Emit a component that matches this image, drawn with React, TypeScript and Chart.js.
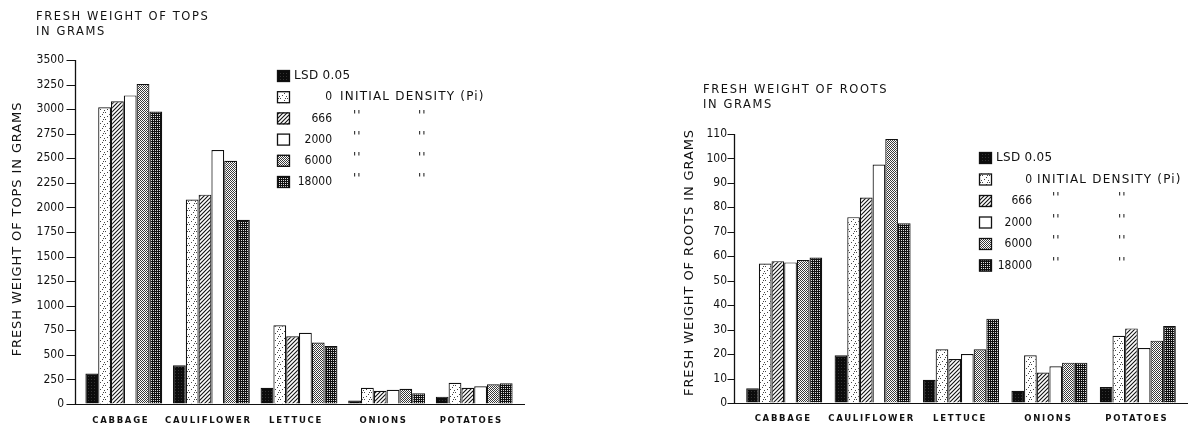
import React, { useEffect, useRef } from 'react';
import { Chart, registerables } from 'chart.js';

Chart.register(...registerables);

// ---------- data ----------
const categories = ['CABBAGE', 'CAULIFLOWER', 'LETTUCE', 'ONIONS', 'POTATOES'];
const seriesNames = ['LSD 0.05', '0', '666', '2000', '6000', '18000'];

const topsLSD = [310, 395, 165, 35, 75];
const tops0 = [3020, 2080, 800, 165, 215];
const tops666 = [3080, 2130, 690, 135, 165];
const tops2000 = [3140, 2585, 725, 145, 180];
const tops6000 = [3255, 2475, 625, 155, 200];
const tops18000 = [2975, 1875, 590, 110, 210];

const rootsLSD = [6, 19.5, 9.5, 5, 6.5];
const roots0 = [57, 76, 22, 19.5, 27.5];
const roots666 = [58, 84, 18, 12.5, 30.5];
const roots2000 = [57.5, 97.5, 20, 15, 22.5];
const roots6000 = [58.5, 108, 22, 16.5, 25.5];
const roots18000 = [59.5, 73.5, 34.5, 16.5, 31.5];

const topsTicks = [0, 250, 500, 750, 1000, 1250, 1500, 1750, 2000, 2250, 2500, 2750, 3000, 3250, 3500];
const rootsTicks = [0, 10, 20, 30, 40, 50, 60, 70, 80, 90, 100, 110];

const topsTitle = ['FRESH WEIGHT OF TOPS', 'IN GRAMS'];
const rootsTitle = ['FRESH WEIGHT OF ROOTS', 'IN GRAMS'];
const topsAxisTitle = 'FRESH WEIGHT OF TOPS IN GRAMS';
const rootsAxisTitle = 'FRESH WEIGHT OF ROOTS IN GRAMS';
const densityNote = 'INITIAL DENSITY (Pi)';
const ditto = "''";

// ---------- patterns ----------
function tile(w: number, h: number, draw: (ctx: CanvasRenderingContext2D) => void): CanvasPattern | string {
  const c = document.createElement('canvas');
  c.width = w;
  c.height = h;
  const ctx = c.getContext('2d')!;
  draw(ctx);
  const p = ctx.createPattern(c, 'repeat');
  return p || '#888';
}

function makeFills(): (CanvasPattern | string)[] {
  const lsd = tile(3, 3, (ctx) => {
    ctx.fillStyle = '#0c0c0c';
    ctx.fillRect(0, 0, 3, 3);
    ctx.fillStyle = '#333';
    ctx.fillRect(1, 1, 1, 1);
  });
  const stipple = tile(7, 7, (ctx) => {
    ctx.fillStyle = '#fff';
    ctx.fillRect(0, 0, 7, 7);
    ctx.fillStyle = '#444';
    [[0, 0], [4, 2], [2, 4], [6, 5], [5, 0]].forEach(([x, y]) => ctx.fillRect(x, y, 1, 1));
  });
  const hatch = tile(4, 4, (ctx) => {
    ctx.fillStyle = '#fff';
    ctx.fillRect(0, 0, 4, 4);
    ctx.strokeStyle = '#111';
    ctx.lineWidth = 1.1;
    ctx.beginPath();
    ctx.moveTo(-1, 5);
    ctx.lineTo(5, -1);
    ctx.moveTo(-1, 1);
    ctx.lineTo(1, -1);
    ctx.moveTo(3, 5);
    ctx.lineTo(5, 3);
    ctx.stroke();
  });
  const open = '#ffffff';
  const medium = tile(2, 2, (ctx) => {
    ctx.fillStyle = '#fff';
    ctx.fillRect(0, 0, 2, 2);
    ctx.fillStyle = '#3a3a3a';
    ctx.fillRect(0, 0, 1, 1);
    ctx.fillRect(1, 1, 1, 1);
  });
  const dark = tile(2, 2, (ctx) => {
    ctx.fillStyle = '#111';
    ctx.fillRect(0, 0, 2, 2);
    ctx.fillStyle = '#ddd';
    ctx.fillRect(1, 0, 1, 1);
  });
  return [lsd, stipple, hatch, open, medium, dark];
}

// ---------- decoration plugin (axis line, titles, category labels, legend) ----------
const decorPlugin = {
  id: 'decor',
  afterDraw(chart: any, _args: any, opts: any) {
    const ctx: CanvasRenderingContext2D = chart.ctx;
    const area = chart.chartArea;
    const c: any = ctx;
    const ys = chart.scales.y;
    ctx.save();
    ctx.fillStyle = '#111';
    ctx.strokeStyle = '#111';

    // baseline
    ctx.lineWidth = 1.2;
    ctx.beginPath();
    ctx.moveTo(area.left - opts.baseExtL, area.bottom + 0.5);
    ctx.lineTo(area.right + opts.baseExtR, area.bottom + 0.5);
    ctx.stroke();

    // y axis line and tick marks (set slightly left of the plot area)
    const ax = Math.round(area.left - opts.axisGap) + 0.5;
    ctx.lineWidth = 1.3;
    ctx.beginPath();
    ctx.moveTo(ax, ys.getPixelForValue(ys.max));
    ctx.lineTo(ax, area.bottom + 1);
    ctx.stroke();
    ctx.lineWidth = 1;
    ys.ticks.forEach((t: any) => {
      const py = Math.round(ys.getPixelForValue(t.value)) + 0.5;
      ctx.beginPath();
      ctx.moveTo(ax - opts.tickLen, py);
      ctx.lineTo(ax, py);
      ctx.stroke();
    });

    // title
    ctx.font = '11.5px "DejaVu Sans"';
    c.letterSpacing = '1.6px';
    ctx.textAlign = 'left';
    ctx.textBaseline = 'alphabetic';
    opts.title.forEach((line: string, i: number) => ctx.fillText(line, opts.titleX, opts.titleY + i * 15));

    // y axis title (rotated)
    ctx.save();
    ctx.translate(opts.axisTitleX, (area.top + area.bottom) / 2 + opts.axisTitleDY);
    ctx.rotate(-Math.PI / 2);
    ctx.font = '13px "DejaVu Sans"';
    c.letterSpacing = '0.9px';
    ctx.textAlign = 'center';
    ctx.textBaseline = 'middle';
    ctx.fillText(opts.axisTitle, 0, 0);
    ctx.restore();

    // category labels
    const xs = chart.scales.x;
    ctx.font = 'bold 8.5px "DejaVu Sans"';
    c.letterSpacing = '1.7px';
    ctx.textAlign = 'center';
    ctx.textBaseline = 'middle';
    chart.data.labels.forEach((lab: string, i: number) => {
      ctx.fillText(lab, xs.getPixelForTick(i) + opts.catDX, opts.catY);
    });
    c.letterSpacing = '0px';

    // legend
    const lg = opts.legend;
    ctx.textBaseline = 'middle';
    chart.data.datasets.forEach((ds: any, i: number) => {
      const y = lg.y + i * lg.step;
      ctx.fillStyle = ds.backgroundColor;
      ctx.fillRect(lg.x, y - 6, 13, 12);
      ctx.lineWidth = 1.3;
      ctx.strokeStyle = '#111';
      ctx.strokeRect(lg.x + 0.5, y - 5.5, 12, 11);
      ctx.fillStyle = '#111';
      if (i === 0) {
        ctx.font = '12px "DejaVu Sans"';
        c.letterSpacing = '0.3px';
        ctx.textAlign = 'left';
        ctx.fillText(ds.label, lg.x + 17, y);
      } else {
        ctx.font = '12px "DejaVu Sans Condensed", "DejaVu Sans"';
        c.letterSpacing = '0px';
        ctx.textAlign = 'right';
        ctx.fillText(ds.label, lg.numRight, y);
        ctx.textAlign = 'left';
        ctx.font = '12px "DejaVu Sans"';
        if (i === 1) {
          c.letterSpacing = '1.2px';
          ctx.fillText(densityNote, lg.noteX, y);
        } else {
          c.letterSpacing = '1px';
          ctx.fillText(ditto, lg.d1, y - 3);
          ctx.fillText(ditto, lg.d2, y - 3);
        }
      }
    });
    c.letterSpacing = '0px';
    ctx.restore();
  },
};

type Cfg = {
  series: number[][];
  ticks: number[];
  yWidth: number;
  xHeight: number;
  padding: { top: number; right: number; bottom: number; left: number };
  catPct: number;
  labelGap: number;
  decor: any;
};

function makeChart(canvas: HTMLCanvasElement, cfg: Cfg): Chart {
  const fills = makeFills();
  const ticks = cfg.ticks;
  return new Chart(canvas, {
    type: 'bar',
    data: {
      labels: categories,
      datasets: cfg.series.map((vals, i) => ({
        label: seriesNames[i],
        data: vals,
        backgroundColor: fills[i] as any,
        borderColor: '#111',
        borderWidth: 1.2,
        borderSkipped: 'bottom',
        categoryPercentage: cfg.catPct,
        barPercentage: 1.0,
      })),
    },
    options: {
      responsive: false,
      animation: false,
      devicePixelRatio: 1,
      layout: { padding: cfg.padding },
      plugins: {
        legend: { display: false },
        tooltip: { enabled: false },
        title: { display: false },
        decor: cfg.decor,
      } as any,
      scales: {
        x: {
          grid: { display: false },
          border: { display: false },
          ticks: { display: false },
          afterFit: (s: any) => {
            s.height = cfg.xHeight;
          },
        },
        y: {
          min: ticks[0],
          max: ticks[ticks.length - 1],
          afterBuildTicks: (s: any) => {
            s.ticks = ticks.map((v) => ({ value: v }));
          },
          afterFit: (s: any) => {
            s.width = cfg.yWidth;
          },
          grid: {
            display: true,
            drawOnChartArea: false,
            drawTicks: true,
            tickLength: 8,
            color: 'rgba(0,0,0,0)',
          },
          border: { display: false },
          ticks: {
            color: '#111',
            padding: cfg.labelGap,
            font: { family: '"DejaVu Sans Condensed", "DejaVu Sans"', size: 12 },
            callback: (v: any) => String(v),
          },
          title: { display: false },
        },
      },
    },
    plugins: [decorPlugin as any],
  });
}

export default function App() {
  const leftRef = useRef<HTMLCanvasElement>(null);
  const rightRef = useRef<HTMLCanvasElement>(null);

  useEffect(() => {
    const left = makeChart(leftRef.current!, {
      series: [topsLSD, tops0, tops666, tops2000, tops6000, tops18000],
      ticks: topsTicks,
      yWidth: 80,
      xHeight: 24,
      padding: { top: 60, right: 42, bottom: 0, left: 0 },
      catPct: 0.877,
      labelGap: 8,
      decor: {
        title: topsTitle,
        titleX: 36,
        titleY: 20,
        axisTitle: topsAxisTitle,
        axisTitleX: 18,
        axisTitleDY: -3,
        axisGap: 5,
        tickLen: 9,
        catY: 421,
        catDX: -3,
        baseExtL: 13,
        baseExtR: 7,
        legend: { x: 277, y: 76, step: 21.2, numRight: 332, noteX: 340, d1: 353, d2: 418 },
      },
    });
    const right = makeChart(rightRef.current!, {
      series: [rootsLSD, roots0, roots666, roots2000, roots6000, roots18000],
      ticks: rootsTicks,
      yWidth: 80,
      xHeight: 25,
      padding: { top: 134, right: 9, bottom: 0, left: 0 },
      catPct: 0.86,
      labelGap: 5,
      decor: {
        title: rootsTitle,
        titleX: 43,
        titleY: 93,
        axisTitle: rootsAxisTitle,
        axisTitleX: 30,
        axisTitleDY: -6,
        axisGap: 6,
        tickLen: 7,
        catY: 419,
        catDX: -1,
        baseExtL: 6,
        baseExtR: 6,
        legend: { x: 319, y: 158, step: 21.5, numRight: 372, noteX: 377, d1: 392, d2: 458 },
      },
    });
    return () => {
      left.destroy();
      right.destroy();
    };
  }, []);

  return (
    <div style={{ position: 'absolute', left: 0, top: 0, width: 1191, height: 428, background: '#fff', overflow: 'hidden' }}>
      <canvas ref={leftRef} width={560} height={428} style={{ position: 'absolute', left: 0, top: 0 }} />
      <canvas ref={rightRef} width={531} height={428} style={{ position: 'absolute', left: 660, top: 0 }} />
    </div>
  );
}
